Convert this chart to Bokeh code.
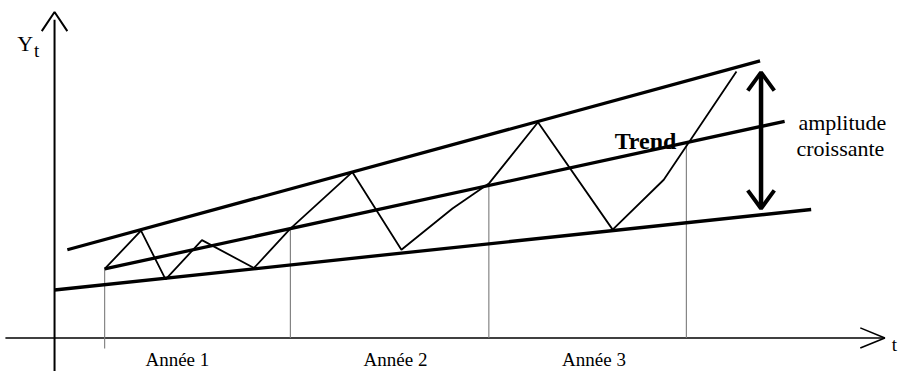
import numpy as np
from bokeh.plotting import figure
from bokeh.models import Range1d
from bokeh.core.properties import value
from bokeh.embed import file_html
from bokeh.resources import INLINE

# ---- data (diagram units: origin at the axes' crossing) ----
series_t = [51, 88, 113, 150, 203, 240, 303, 353, 405, 442, 492, 568, 620, 694]
series_y = [72, 112, 61, 102, 73, 114, 173, 92, 135, 161, 225, 113, 165, 278]

trend_t = [51, 743]
trend_y = [72, 226]
upper_t = [13, 718]
upper_y = [92, 289]
lower_t = [0, 770]
lower_y = [50, 134]

year_marks_t = [51, 240, 442, 643]
year_marks_bottom = [-11, 0, 0, 0]
year_labels = ["Année 1", "Année 2", "Année 3"]
year_label_t = [125, 347, 549]

amp_t = 719
amp_top = 277
amp_bottom = 135

x_axis_start, x_axis_end = -50, 845
y_axis_start, y_axis_end = -35, 340

FONT = value("Liberation Serif")

p = figure(width=904, height=371, x_range=Range1d(-55, 865), y_range=Range1d(-35, 352),
           output_backend="svg", toolbar_location=None, x_axis_type=None, y_axis_type=None,
           min_border=0)
p.grid.visible = False
p.outline_line_color = None
p.background_fill_color = "white"
p.border_fill_color = "white"


def vhead(tip_x, tip_y, dx, dy, length, half_w, lw):
    # open V arrow head pointing in direction (dx, dy)
    bx, by = tip_x - dx * length, tip_y - dy * length
    px, py = -dy * half_w, dx * half_w
    p.line([bx + px, tip_x, bx - px], [by + py, tip_y, by - py],
           line_color="black", line_width=lw)


# axes
p.line([x_axis_start, x_axis_end], [0, 0], line_color="black", line_width=1.6)
vhead(x_axis_end, 0, 1, 0, 25, 10.5, 1.6)
p.line([0, 0], [y_axis_start, y_axis_end - 8], line_color="black", line_width=2)
vhead(0, y_axis_end, 0, 1, 20, 13, 2)

# year vertical marks (from trend line down to the axis)
tops = np.interp(year_marks_t, trend_t, trend_y)
p.segment(x0=year_marks_t, y0=year_marks_bottom, x1=year_marks_t, y1=list(tops),
          line_color="#7a7a7a", line_width=1.1)

# envelope and trend lines
for tt, yy in ((upper_t, upper_y), (trend_t, trend_y), (lower_t, lower_y)):
    p.line(tt, yy, line_color="black", line_width=3.3)

# series zigzag
p.line(series_t, series_y, line_color="black", line_width=1.8)

# amplitude double arrow
p.line([amp_t, amp_t], [amp_bottom + 2, amp_top - 2], line_color="black", line_width=4.5)
vhead(amp_t, amp_top, 0, 1, 19, 13.5, 4)
vhead(amp_t, amp_bottom, 0, -1, 19, 13.5, 4)

# texts
p.text(x=year_label_t, y=[-23] * 3, text=year_labels, text_font=FONT, text_font_size="19px",
       text_align="center", text_baseline="middle", text_color="black")
p.text(x=[-38], y=[307], text=["Y"], text_font=FONT, text_font_size="22px",
       text_align="left", text_baseline="alphabetic", text_color="black")
p.text(x=[-21], y=[300], text=["t"], text_font=FONT, text_font_size="19px",
       text_align="left", text_baseline="alphabetic", text_color="black")
p.text(x=[852], y=[-7], text=["t"], text_font=FONT, text_font_size="19px",
       text_align="left", text_baseline="alphabetic", text_color="black")
p.text(x=[570], y=[205], text=["Trend"], text_font=FONT, text_font_size="24px",
       text_font_style="bold", text_align="left", text_baseline="alphabetic", text_color="black")
p.text(x=[757, 755], y=[225, 198], text=["amplitude", "croissante"], text_font=FONT,
       text_font_size="22px", text_align="left", text_baseline="alphabetic", text_color="black")

open("out.html", "w").write(file_html(p, INLINE))
